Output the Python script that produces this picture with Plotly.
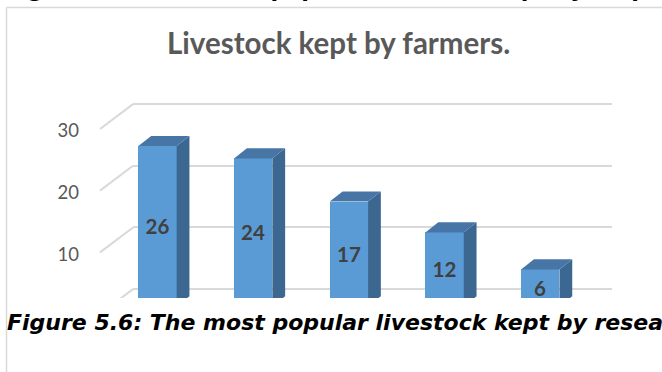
import plotly.graph_objects as go

# ---------------- data ----------------
CATEGORIES = ["Cattle", "Goats", "Poultry", "Sheep", "Pigs"]
VALUES = [26, 24, 17, 12, 6]
Y_TICKS = [0, 10, 20, 30]
LABEL_TICKS = [10, 20, 30]
TITLE = "Livestock kept by farmers."
CAPTION = "Figure 5.6: The most popular livestock kept by research respondents"
PREV_CAPTION = "Figure 5.5: The most popular livestock kept by respondents"

# ---------------- geometry / style ----------------
W, H = 662, 372


def fx(px):
    return px / W


def fy(py):
    return (H - py) / H


S = 6.25            # pixels per unit
BACK_ZERO = 288.0   # back wall zero line (px from top)
FRONT_ZERO = 305.5  # bar front face zero
LABEL_ZERO = 315.0  # tick label zero
DIAG_ZERO = 313.2   # front end of side-wall lines
CAT0_PX, CAT_STEP = 157.5, 95.7
BAR_W = 0.40
DX = 12.8 / CAT_STEP
DY = 10.3 / S
CUT_Y = 297

FRONT_C, TOP_C, SIDE_C = "#5B9BD5", "#4776A6", "#3B6790"
GRID_C = "#D9D9D9"

idx = list(range(len(CATEGORIES)))

fig = go.Figure()

# back wall subplot (gridlines only)
fig.add_trace(go.Scatter(x=[None], y=[None], xaxis="x", yaxis="y",
                         showlegend=False, hoverinfo="skip"))
# tick-label subplot
fig.add_trace(go.Scatter(x=[None], y=[None], xaxis="x3", yaxis="y3",
                         showlegend=False, hoverinfo="skip"))

# bars (front faces)
fig.add_trace(go.Bar(
    x=idx, y=VALUES, width=BAR_W, xaxis="x2", yaxis="y2",
    marker=dict(color=FRONT_C, line=dict(width=0)),
    text=VALUES, texttemplate="<b>%{text}</b>", textposition="inside",
    insidetextanchor="middle", constraintext="none",
    textfont=dict(family="Lato", size=20.5, color="#404040"),
    hoverinfo="skip", showlegend=False,
))

# side and top faces derived from the values
for i, v in zip(idx, VALUES):
    xl, xr = i - BAR_W / 2, i + BAR_W / 2
    fig.add_trace(go.Scatter(
        x=[xr, xr, xr + DX, xr + DX, xr], y=[0, v, v + DY, DY, 0],
        fill="toself", fillcolor=SIDE_C, mode="lines",
        line=dict(width=0, color=SIDE_C), xaxis="x2", yaxis="y2",
        showlegend=False, hoverinfo="skip"))
    fig.add_trace(go.Scatter(
        x=[xl, xr, xr + DX, xl + DX, xl], y=[v, v, v + DY, v + DY, v],
        fill="toself", fillcolor=TOP_C, mode="lines",
        line=dict(width=0, color=TOP_C), xaxis="x2", yaxis="y2",
        showlegend=False, hoverinfo="skip"))

hidden = dict(showgrid=False, zeroline=False, showline=False,
              showticklabels=False, ticks="")

shapes = []
for v in Y_TICKS:
    shapes.append(dict(type="line", xref="paper", yref="paper",
                       x0=fx(100), y0=fy(DIAG_ZERO - v * S),
                       x1=fx(133), y1=fy(BACK_ZERO - v * S),
                       line=dict(color=GRID_C, width=2), layer="below"))
# white area below the chart cut
shapes.append(dict(type="rect", xref="paper", yref="paper",
                   x0=0, x1=1, y0=0, y1=fy(CUT_Y),
                   fillcolor="white", line=dict(width=0), layer="above"))
# chart frame
shapes.append(dict(type="line", xref="paper", yref="paper",
                   x0=fx(6.5), x1=fx(6.5), y0=0, y1=fy(2.5),
                   line=dict(color=GRID_C, width=1.5), layer="above"))
shapes.append(dict(type="line", xref="paper", yref="paper",
                   x0=fx(6.5), x1=1, y0=fy(2.5), y1=fy(2.5),
                   line=dict(color=GRID_C, width=1.5), layer="above"))

annotations = [
    dict(text=f"<b>{TITLE}</b>", xref="paper", yref="paper",
         x=fx(338.5), y=fy(58), xanchor="center", yanchor="bottom",
         showarrow=False, font=dict(family="Lato", size=29.5, color="#595959")),
    dict(text=f"<b><i>{CAPTION}</i></b>", xref="paper", yref="paper",
         x=fx(5), y=fy(337), xanchor="left", yanchor="bottom",
         showarrow=False, font=dict(family="DejaVu Sans", size=22, color="black")),
    dict(text=f"<b><i>{PREV_CAPTION}</i></b>", xref="paper", yref="paper",
         x=fx(5), y=fy(-1.5), xanchor="left", yanchor="bottom",
         showarrow=False, font=dict(family="DejaVu Sans", size=22, color="black")),
]

fig.update_layout(
    width=W, height=H, autosize=False,
    margin=dict(l=0, r=0, t=0, b=0, pad=0),
    paper_bgcolor="white", plot_bgcolor="rgba(0,0,0,0)",
    showlegend=False, bargap=0,
    xaxis=dict(domain=[fx(133), fx(612)], range=[0, 1], anchor="y", **hidden),
    yaxis=dict(domain=[fy(BACK_ZERO + S), fy(BACK_ZERO - 31 * S)],
               range=[-1, 31], anchor="x", tickvals=Y_TICKS,
               showgrid=True, gridcolor=GRID_C, gridwidth=2,
               zeroline=False, showline=False, showticklabels=False, ticks=""),
    xaxis2=dict(domain=[0, 1], anchor="y2",
                range=[-CAT0_PX / CAT_STEP, (W - CAT0_PX) / CAT_STEP], **hidden),
    yaxis2=dict(domain=[0, 1], anchor="x2",
                range=[-(H - FRONT_ZERO) / S, FRONT_ZERO / S], **hidden),
    xaxis3=dict(domain=[fx(80), fx(100)], anchor="y3", range=[0, 1], **hidden),
    yaxis3=dict(domain=[fy(LABEL_ZERO + S), fy(LABEL_ZERO - 31 * S)],
                range=[-1, 31], anchor="x3", tickvals=LABEL_TICKS, ticks="",
                showgrid=False, zeroline=False, showline=False,
                tickfont=dict(family="Lato", size=18.5, color="#595959")),
    shapes=shapes,
    annotations=annotations,
)

fig.write_html("out.html")
